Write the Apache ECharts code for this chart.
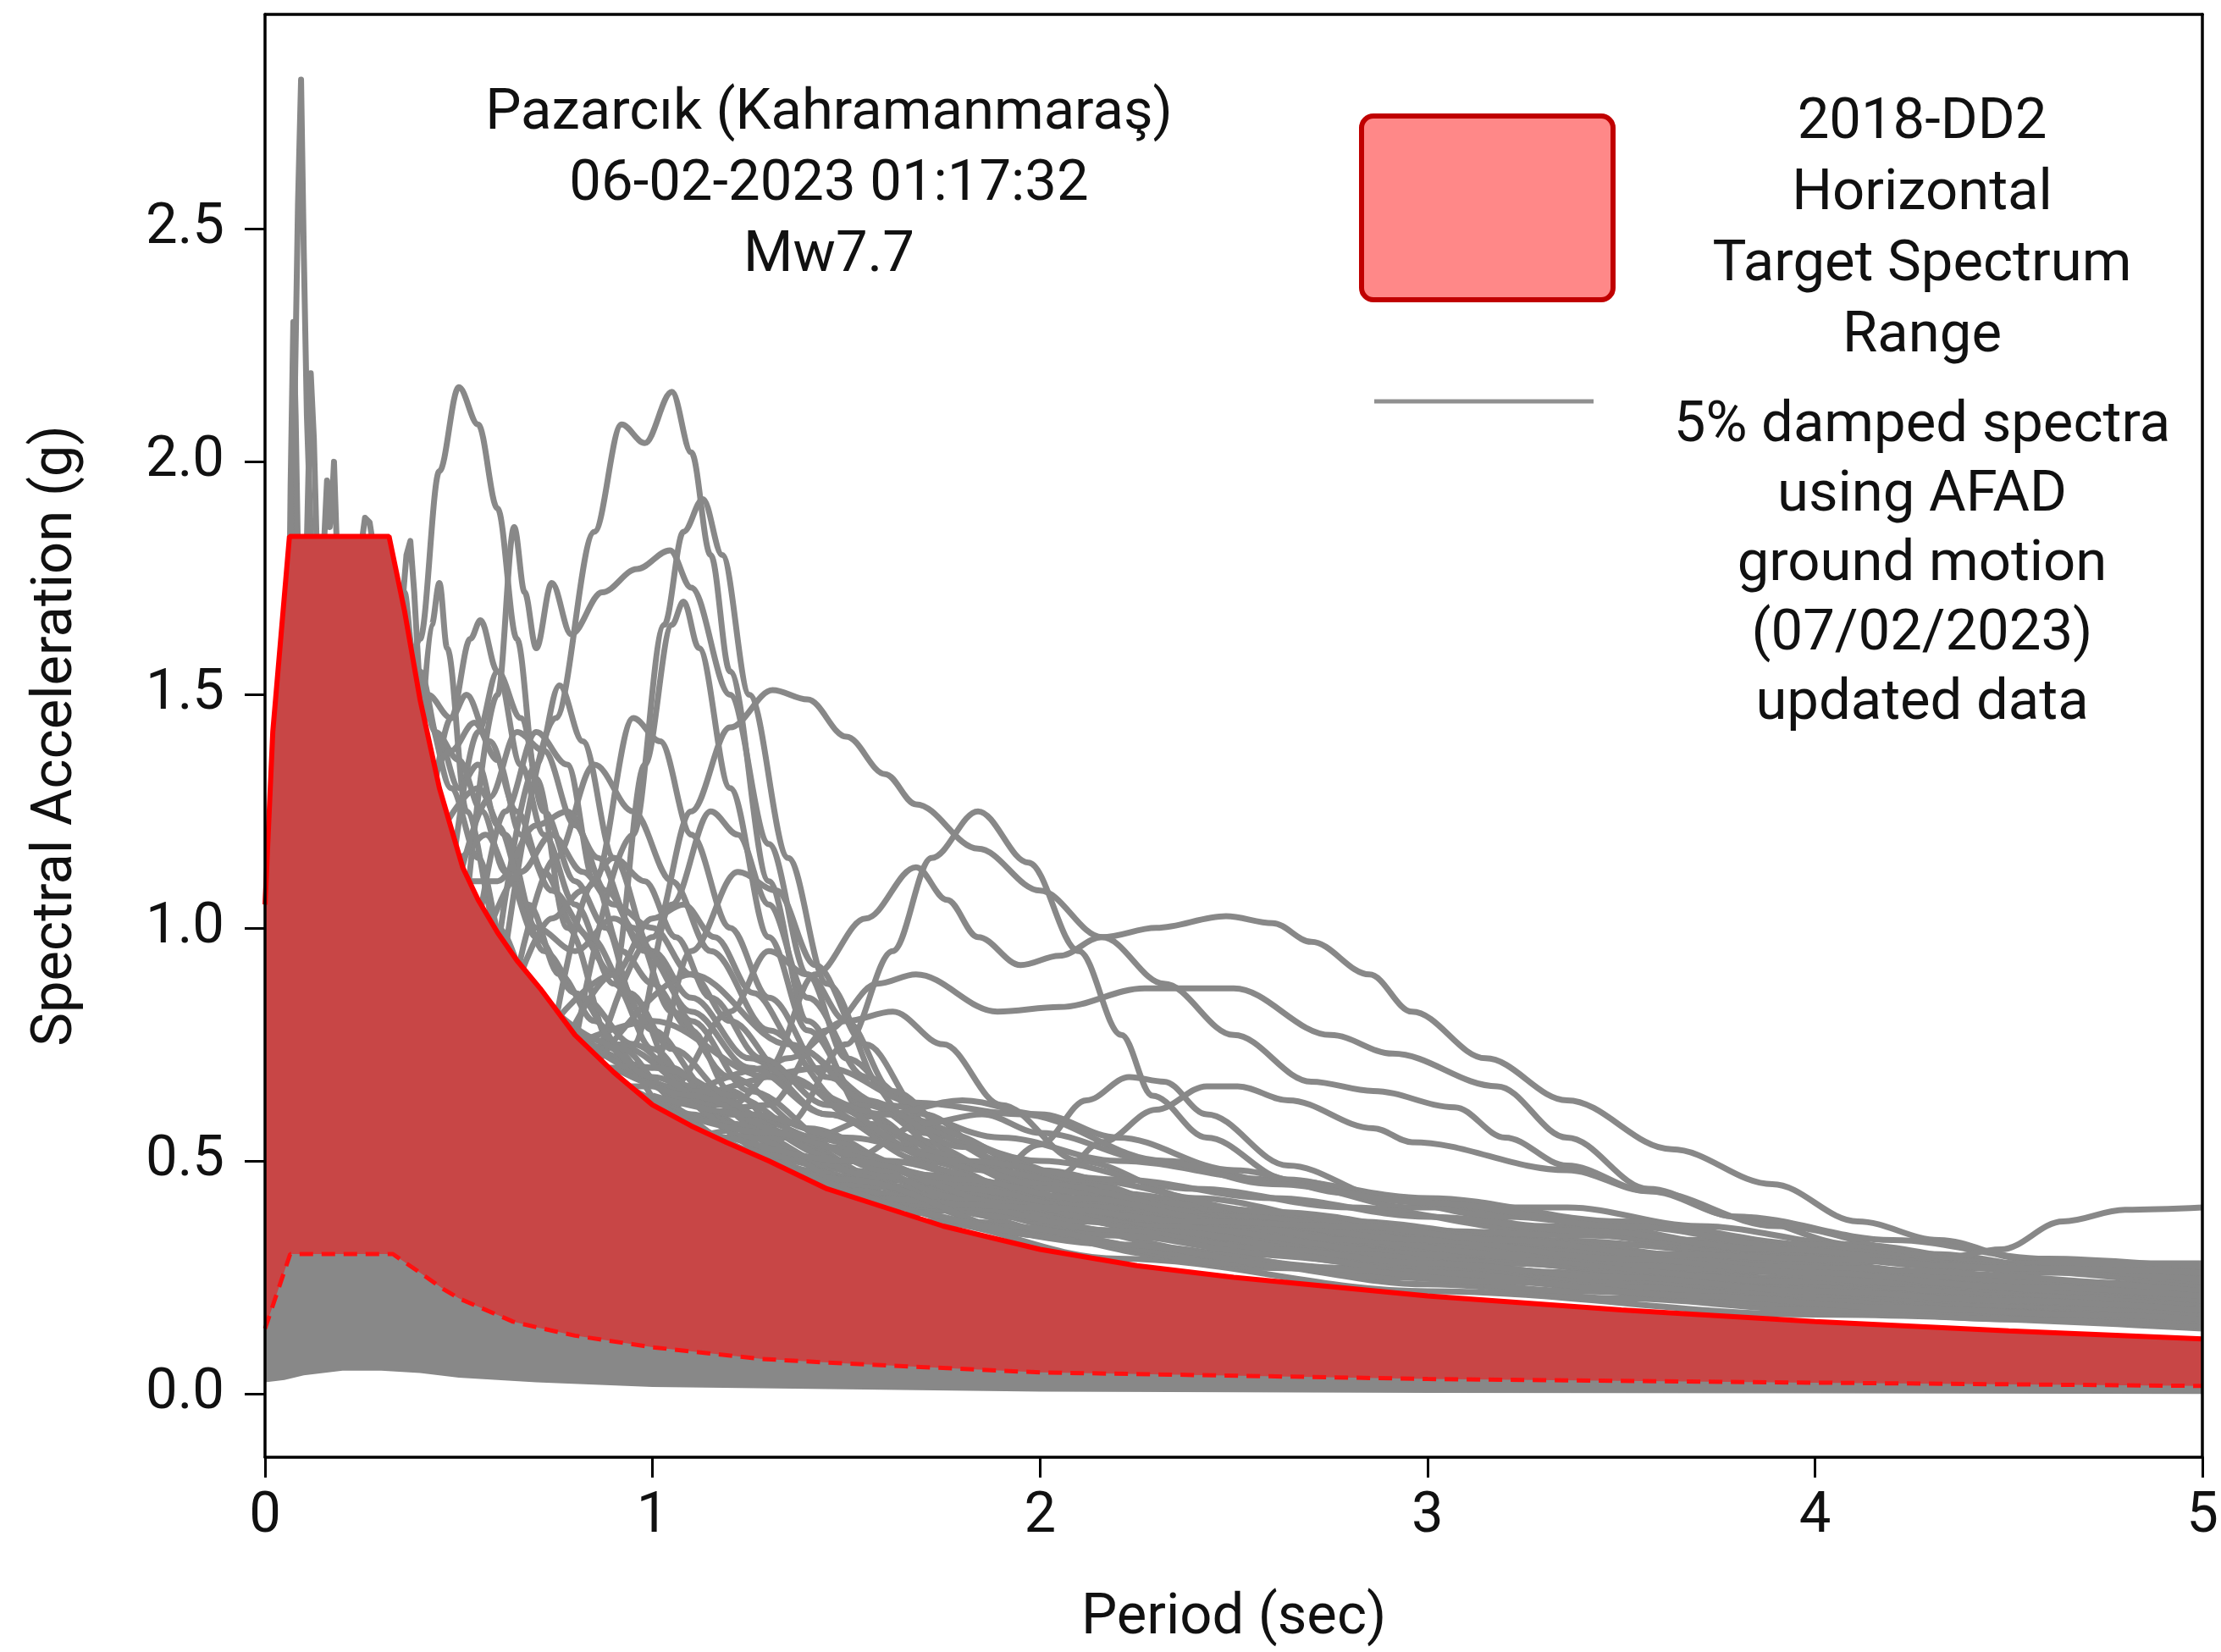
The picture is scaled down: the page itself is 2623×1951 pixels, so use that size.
<!DOCTYPE html>
<html>
<head>
<meta charset="utf-8">
<title>Pazarcık Mw7.7 response spectra</title>
<script src="https://cdn.jsdelivr.net/npm/echarts@6.0.0/dist/echarts.min.js"></script>
<style>
  html, body { margin: 0; padding: 0; background: #fff; }
  #chart { width: 2623px; height: 1951px; }
</style>
</head>
<body>
<div id="chart"></div>
<script>
const periodTicks = [0, 1, 2, 3, 4, 5];
const saTicks = [0, 0.5, 1, 1.5, 2, 2.5];

// 2018-DD2 target spectrum range, upper and lower edge
const upperT  = [0, 0.02, 0.063, 0.32, 0.36, 0.40, 0.45, 0.51, 0.55, 0.6, 0.65, 0.71, 0.8, 0.9, 1.0, 1.1, 1.19, 1.3, 1.45, 1.6, 1.75, 2.0, 2.25, 2.5, 3.0, 3.5, 4.0, 4.5, 5.0];
const upperSa = [1.05, 1.42, 1.84, 1.84, 1.68, 1.49, 1.30, 1.13, 1.06, 0.99, 0.93, 0.87, 0.77, 0.69, 0.62, 0.575, 0.54, 0.50, 0.44, 0.40, 0.36, 0.31, 0.275, 0.25, 0.21, 0.18, 0.155, 0.135, 0.118];
const lowerT  = [0, 0.065, 0.33, 0.40, 0.46, 0.5, 0.64, 0.7, 0.8, 1.0, 1.28, 1.5, 2.0, 3.0, 4.0, 5.0];
const lowerSa = [0.14, 0.30, 0.30, 0.26, 0.225, 0.205, 0.155, 0.143, 0.125, 0.10, 0.075, 0.065, 0.046, 0.032, 0.024, 0.017];

// lowest edge of the recorded spectra
const floorT  = [0, 0.05, 0.1, 0.2, 0.3, 0.4, 0.5, 0.7, 1.0, 1.5, 2.0, 3.0, 4.0, 5.0];
const floorSa = [0.025, 0.03, 0.04, 0.05, 0.05, 0.045, 0.035, 0.025, 0.015, 0.01, 0.005, 0.002, 0.001, 0.0];

// recorded spectra (period sec, Sa g) - short period spikes
const spike1 = [[0.06,1.45],[0.075,2.05],[0.085,2.55],[0.093,2.82],[0.1,2.45],[0.108,2.1],[0.118,1.85],[0.13,1.6]];
const spike2 = [[0.06,1.5],[0.066,1.95],[0.073,2.3],[0.079,2.1],[0.086,1.75],[0.095,1.5]];
const spike3 = [[0.1,1.55],[0.11,1.9],[0.118,2.19],[0.126,2.05],[0.134,1.8],[0.145,1.55]];
const spike4 = [[0.14,1.5],[0.152,1.82],[0.16,1.96],[0.167,1.86],[0.172,1.9],[0.178,2.0],[0.186,1.8],[0.2,1.55]];
const spike5 = [[0.22,1.55],[0.245,1.8],[0.258,1.88],[0.27,1.87],[0.283,1.8],[0.3,1.62]];
const spike6 = [[0.33,1.4],[0.35,1.65],[0.365,1.8],[0.375,1.83],[0.385,1.72],[0.4,1.5],[0.42,1.35]];

// recorded spectra - smooth ones
const specA = [[0.33,1.25],[0.4,1.62],[0.45,1.98],[0.5,2.16],[0.55,2.08],[0.6,1.9],[0.65,1.62],[0.7,1.32],[0.78,1.0],[0.9,0.74],[1.05,0.6],[1.3,0.48],[1.7,0.37],[2.2,0.29],[3,0.22],[4,0.17],[5,0.14]];
const specB = [[0.62,0.95],[0.75,1.45],[0.85,1.85],[0.92,2.08],[0.98,2.04],[1.05,2.15],[1.1,2.02],[1.15,1.8],[1.2,1.55],[1.3,1.1],[1.4,0.8],[1.55,0.6],[1.8,0.46],[2.2,0.37],[2.8,0.3],[3.5,0.25],[4.2,0.21],[5,0.17]];
const specC = [[0.8,0.75],[0.95,1.2],[1.03,1.65],[1.08,1.85],[1.13,1.92],[1.18,1.8],[1.25,1.5],[1.35,1.15],[1.45,0.88],[1.6,0.65],[1.8,0.5],[2.1,0.41],[2.6,0.34],[3.2,0.28],[4,0.22],[5,0.18]];
const specD = [[0.52,1.05],[0.6,1.5],[0.643,1.86],[0.67,1.72],[0.7,1.6],[0.74,1.74],[0.79,1.63],[0.87,1.72],[0.96,1.77],[1.045,1.81],[1.1,1.73],[1.2,1.5],[1.3,1.18],[1.4,0.9],[1.5,0.72],[1.7,0.56],[2.0,0.46],[2.5,0.37],[3,0.31],[4,0.23],[5,0.19]];
const specE = [[0.85,0.7],[1.0,0.98],[1.1,1.25],[1.2,1.43],[1.31,1.51],[1.4,1.49],[1.5,1.41],[1.6,1.33],[1.68,1.265],[1.84,1.17],[2.0,1.08],[2.16,0.98],[2.32,0.88],[2.5,0.77],[2.7,0.67],[2.86,0.65],[3.07,0.615],[3.2,0.55],[3.36,0.49],[3.57,0.435],[3.8,0.38],[4.1,0.32],[4.5,0.27],[5,0.23]];
const specF = [[0.4,1.35],[0.43,1.65],[0.45,1.74],[0.47,1.6],[0.52,1.25],[0.6,1.0],[0.7,0.85],[0.85,0.7],[1.0,0.62],[1.2,0.5]];
const specG = [[0.34,1.5],[0.36,1.72],[0.38,1.6],[0.42,1.45],[0.48,1.3],[0.55,1.15],[0.62,0.95],[0.7,0.82],[0.8,0.7],[0.9,0.6]];
const specH = [[0.42,1.2],[0.48,1.45],[0.53,1.62],[0.556,1.66],[0.6,1.55],[0.66,1.35],[0.72,1.2],[0.8,1.05],[0.9,0.88],[1.0,0.74],[1.15,0.6],[1.35,0.5],[1.6,0.42],[2,0.34],[2.6,0.27],[3.2,0.24],[4,0.2],[5,0.17]];
const specI = [[0.48,1.1],[0.55,1.42],[0.6,1.55],[0.66,1.45],[0.72,1.25],[0.8,1.1],[0.88,1.0],[0.95,0.85],[1.05,0.7],[1.2,0.58],[1.4,0.48],[1.8,0.37],[2.4,0.29],[3,0.25],[4,0.19],[5,0.16]];
const specJ = [[0.55,1.0],[0.62,1.25],[0.7,1.42],[0.78,1.35],[0.85,1.1],[0.92,0.95],[1.0,0.88],[1.1,0.78],[1.2,0.65],[1.4,0.5],[1.7,0.4],[2.2,0.32],[2.8,0.27],[3.6,0.22],[5,0.16]];
const specK = [[0.6,0.95],[0.7,1.35],[0.76,1.52],[0.82,1.4],[0.9,1.15],[1.0,0.95],[1.1,0.85],[1.25,0.72],[1.45,0.6],[1.7,0.5],[2.0,0.42],[2.5,0.33],[3,0.27],[4,0.2],[5,0.17]];
const specL = [[0.65,0.9],[0.75,1.15],[0.85,1.35],[0.95,1.25],[1.05,1.1],[1.15,0.95],[1.3,0.78],[1.5,0.62],[1.75,0.5],[2.1,0.4],[2.6,0.32],[3.3,0.26],[4.2,0.21],[5,0.18]];
const specM = [[0.75,0.8],[0.85,1.1],[0.95,1.45],[1.02,1.4],[1.1,1.2],[1.2,1.0],[1.3,0.85],[1.45,0.68],[1.65,0.55],[2,0.44],[2.5,0.36],[3,0.3],[4,0.23],[5,0.2]];
const specN = [[0.75,0.8],[0.9,0.9],[0.98,1.35],[1.05,1.65],[1.08,1.7],[1.12,1.6],[1.2,1.3],[1.3,0.98],[1.4,0.78],[1.55,0.62],[1.8,0.5],[2.2,0.4],[2.8,0.33],[3.5,0.27],[4.3,0.22],[5,0.19]];
const specO = [[0.8,0.74],[0.95,0.75],[1.05,1.05],[1.15,1.25],[1.22,1.2],[1.3,1.05],[1.4,0.85],[1.55,0.68],[1.75,0.56],[2.0,0.48],[2.4,0.4],[3,0.33],[3.6,0.28],[4.3,0.24],[5,0.21]];
const specP = [[0.85,0.7],[1.0,0.7],[1.1,0.95],[1.22,1.12],[1.32,1.08],[1.42,0.92],[1.55,0.75],[1.7,0.6],[1.9,0.5],[2.2,0.43],[2.6,0.38],[3.2,0.32],[4,0.26],[5,0.22]];
const specQ = [[0.9,0.66],[1.05,0.66],[1.2,0.82],[1.3,0.95],[1.4,0.9],[1.5,0.8],[1.62,0.65],[1.8,0.54],[2.0,0.47],[2.4,0.4],[3,0.35],[3.5,0.32],[4,0.28],[4.5,0.24],[5,0.2]];
const specR = [[0.45,1.2],[0.55,1.3],[0.62,1.2],[0.7,1.0],[0.8,0.95],[0.9,1.02],[1.0,0.95],[1.1,0.8],[1.25,0.65],[1.5,0.52],[1.8,0.43],[2.3,0.36],[3,0.3],[3.8,0.25],[5,0.2]];
const specS = [[0.48,1.1],[0.6,1.1],[0.7,1.22],[0.78,1.25],[0.86,1.15],[0.95,1.0],[1.05,0.82],[1.2,0.68],[1.4,0.57],[1.7,0.47],[2.1,0.4],[2.7,0.34],[3.4,0.29],[4.2,0.25],[5,0.23]];
const specT = [[0.95,0.64],[1.2,0.62],[1.35,0.72],[1.5,0.8],[1.62,0.82],[1.75,0.75],[1.9,0.62],[2.1,0.5],[2.4,0.42],[2.8,0.37],[3.3,0.33],[3.9,0.3],[4.5,0.27],[5,0.25]];
const specU = [[0.35,1.6],[0.4,1.55],[0.45,1.4],[0.5,1.3],[0.55,1.35],[0.6,1.22],[0.68,1.05],[0.76,0.9],[0.85,0.8],[0.95,0.7],[1.1,0.6],[1.3,0.52],[1.6,0.43],[2.2,0.34],[3,0.27],[4,0.21],[5,0.18]];
const specV = [[0.36,1.6],[0.42,1.5],[0.48,1.45],[0.52,1.5],[0.58,1.4],[0.65,1.25],[0.72,1.12],[0.8,1.0],[0.9,0.9],[1.0,0.78],[1.15,0.65],[1.35,0.55],[1.6,0.46],[2,0.38],[2.6,0.31],[3.4,0.26],[4.2,0.22],[5,0.19]];
const specW = [[0.38,1.3],[0.44,1.25],[0.5,1.15],[0.57,1.2],[0.64,1.1],[0.72,0.95],[0.82,0.85],[0.95,0.75],[1.1,0.66],[1.3,0.56],[1.6,0.46],[2.2,0.37],[3,0.29],[4,0.23],[5,0.2]];
const specX = [[1.1,0.55],[1.35,0.58],[1.5,0.75],[1.62,0.95],[1.72,1.15],[1.84,1.25],[1.97,1.14],[2.1,0.95],[2.21,0.77],[2.29,0.64],[2.43,0.55],[2.64,0.46],[2.9,0.42],[3.3,0.38],[3.8,0.32],[4.4,0.27],[5,0.23]];
const specY = [[1.0,0.6],[1.3,0.7],[1.42,0.9],[1.55,1.02],[1.68,1.13],[1.76,1.06],[1.84,0.98],[1.95,0.92],[2.05,0.94],[2.16,0.98],[2.3,1.0],[2.48,1.025],[2.6,1.01],[2.7,0.97],[2.85,0.9],[2.96,0.82],[3.15,0.72],[3.36,0.63],[3.63,0.525],[3.89,0.45],[4.11,0.37],[4.32,0.33],[4.54,0.29],[5,0.245]];
const specZ = [[1.05,0.58],[1.3,0.62],[1.45,0.78],[1.58,0.88],[1.68,0.9],[1.89,0.82],[2.05,0.83],[2.27,0.87],[2.5,0.87],[2.75,0.77],[2.91,0.73],[3.18,0.66],[3.36,0.55],[3.57,0.44],[3.8,0.38],[4.2,0.33],[4.6,0.29],[5,0.27]];
const spec27 = [[1.5,0.4],[1.7,0.4],[1.85,0.44],[2.0,0.535],[2.12,0.63],[2.23,0.68],[2.32,0.67],[2.43,0.6],[2.64,0.49],[2.9,0.42],[3.3,0.36],[3.8,0.3],[4.4,0.25],[5,0.21]];
const spec28 = [[1.6,0.38],[1.9,0.4],[2.05,0.47],[2.16,0.54],[2.3,0.61],[2.43,0.66],[2.51,0.66],[2.64,0.63],[2.86,0.57],[2.96,0.54],[3.36,0.48],[3.57,0.435],[3.9,0.36],[4.3,0.3],[4.7,0.26],[5,0.24]];
const spec29 = [[1.0,0.6],[1.45,0.7],[1.68,0.625],[1.95,0.6],[2.32,0.5],[2.64,0.45],[2.96,0.4],[3.36,0.4],[3.7,0.36],[4.1,0.32],[4.5,0.28],[5,0.26]];
const spec30 = [[1.2,0.5],[1.6,0.42],[2.2,0.35],[3.0,0.3],[3.5,0.29],[4.0,0.28],[4.32,0.29],[4.48,0.31],[4.64,0.37],[4.8,0.395],[5,0.4]];
const spec31 = [[0.6,0.95],[0.9,0.75],[1.2,0.6],[1.6,0.5],[2,0.42],[2.5,0.36],[3,0.31],[3.5,0.27],[4,0.24],[4.5,0.21],[5,0.19]];
const spec32 = [[0.68,0.85],[1.0,0.7],[1.4,0.55],[1.8,0.45],[2.2,0.38],[2.7,0.32],[3.2,0.28],[3.8,0.24],[4.4,0.2],[5,0.17]];
const spec33 = [[0.75,0.8],[1.1,0.65],[1.5,0.5],[1.9,0.42],[2.3,0.36],[2.8,0.3],[3.3,0.26],[3.9,0.22],[4.5,0.19],[5,0.16]];
const spec34 = [[0.8,0.75],[1.0,0.8],[1.3,0.68],[1.6,0.6],[2.0,0.5],[2.4,0.44],[2.8,0.4],[3.3,0.35],[3.8,0.31],[4.4,0.27],[5,0.25]];
const spec35 = [[0.85,0.7],[1.1,0.9],[1.35,0.75],[1.6,0.62],[1.9,0.55],[2.2,0.5],[2.6,0.46],[3.0,0.42],[3.5,0.37],[4,0.32],[4.5,0.28],[5,0.26]];
const spec36 = [[1.2,0.5],[1.5,0.45],[1.8,0.42],[2.2,0.4],[2.6,0.38],[3.0,0.35],[3.4,0.34],[3.9,0.31],[4.4,0.28],[5,0.28]];
const spec37 = [[0.85,0.7],[1.2,0.58],[1.5,0.48],[1.9,0.4],[2.4,0.34],[3,0.28],[3.6,0.24],[4.2,0.21],[5,0.18]];
const spec38 = [[1.1,0.55],[1.3,0.52],[1.7,0.44],[2.1,0.39],[2.5,0.35],[3,0.3],[3.5,0.27],[4,0.26],[4.5,0.24],[5,0.22]];
const spec39 = [[1.1,0.55],[1.4,0.55],[1.6,0.6],[1.8,0.63],[2.0,0.6],[2.2,0.55],[2.5,0.48],[2.8,0.43],[3.2,0.38],[3.7,0.33],[4.3,0.28],[5,0.24]];
const spec40 = [[1.2,0.52],[1.5,0.5],[1.7,0.58],[1.85,0.6],[2.0,0.56],[2.3,0.5],[2.6,0.45],[3.0,0.41],[3.5,0.36],[4,0.31],[4.6,0.26],[5,0.24]];
const spec41 = [[0.36,1.6],[0.4,1.52],[0.44,1.42],[0.5,1.36],[0.56,1.25],[0.62,1.12],[0.7,0.98],[0.8,0.86],[0.92,0.74],[1.05,0.64],[1.25,0.55],[1.5,0.46],[1.9,0.38],[2.5,0.3],[3.2,0.25],[4,0.2],[5,0.17]];
const spec42 = [[0.42,1.3],[0.48,1.38],[0.54,1.44],[0.6,1.36],[0.66,1.2],[0.74,1.08],[0.84,0.98],[0.94,0.86],[1.05,0.74],[1.2,0.64],[1.45,0.53],[1.8,0.44],[2.3,0.36],[3,0.3],[4,0.24],[5,0.2]];
const spec43 = [[0.5,1.1],[0.58,1.28],[0.65,1.42],[0.72,1.38],[0.8,1.22],[0.88,1.08],[0.98,0.95],[1.1,0.82],[1.25,0.7],[1.45,0.6],[1.75,0.5],[2.2,0.42],[2.8,0.35],[3.6,0.28],[5,0.2]];
const spec44 = [[0.58,1.0],[0.66,1.12],[0.74,1.2],[0.82,1.12],[0.9,1.05],[1.0,1.0],[1.1,0.9],[1.2,0.8],[1.35,0.68],[1.55,0.58],[1.85,0.48],[2.3,0.41],[2.9,0.35],[3.6,0.3],[4.4,0.25],[5,0.22]];
const spec45 = [[0.66,0.9],[0.74,1.02],[0.82,1.08],[0.9,1.15],[0.98,1.1],[1.06,0.98],[1.15,0.85],[1.28,0.72],[1.45,0.62],[1.7,0.52],[2.0,0.45],[2.5,0.38],[3.2,0.31],[4,0.26],[5,0.21]];
const spec46 = [[0.78,0.76],[0.9,0.9],[1.0,1.02],[1.08,1.05],[1.16,0.98],[1.26,0.86],[1.38,0.74],[1.55,0.63],[1.8,0.53],[2.1,0.46],[2.6,0.39],[3.2,0.33],[4,0.27],[5,0.22]];
const spec47 = [[0.7,0.86],[0.85,0.76],[1.0,0.68],[1.2,0.6],[1.5,0.5],[1.8,0.42],[2.1,0.37],[2.5,0.32],[3,0.27],[3.5,0.24],[4,0.21],[4.5,0.19],[5,0.17]];
const spec48 = [[0.9,0.7],[1.1,0.64],[1.35,0.56],[1.6,0.48],[1.9,0.41],[2.3,0.35],[2.8,0.3],[3.3,0.26],[3.8,0.23],[4.4,0.2],[5,0.18]];
const spec49 = [[1.0,0.62],[1.3,0.56],[1.6,0.5],[2.0,0.44],[2.4,0.38],[2.8,0.33],[3.2,0.3],[3.7,0.27],[4.2,0.24],[4.7,0.22],[5,0.21]];
const spec50 = [[1.2,0.55],[1.5,0.5],[1.8,0.46],[2.1,0.42],[2.5,0.37],[3,0.33],[3.5,0.29],[4,0.26],[4.5,0.23],[5,0.21]];
const spec51 = [[1.5,0.43],[1.8,0.4],[2.2,0.35],[2.6,0.31],[3,0.28],[3.5,0.25],[4,0.22],[4.5,0.2],[5,0.18]];
const spec52 = [[1.8,0.37],[2.2,0.34],[2.6,0.3],[3.0,0.26],[3.5,0.23],[4.0,0.2],[4.5,0.17],[5,0.155]];
const spec53 = [[1.0,0.64],[1.25,0.6],[1.5,0.55],[1.8,0.5],[2.2,0.46],[2.6,0.42],[3.0,0.38],[3.4,0.35],[3.9,0.31],[4.5,0.27],[5,0.245]];
const spec54 = [[1.6,0.42],[2.0,0.4],[2.4,0.37],[2.8,0.36],[3.2,0.33],[3.6,0.3],[4.0,0.29],[4.5,0.27],[5,0.26]];
const spec55 = [[1.0,0.63],[1.5,0.46],[2.0,0.34],[2.5,0.28],[3.0,0.235],[3.5,0.205],[4.0,0.18],[4.5,0.16],[5,0.145]];
const spec56 = [[1.4,0.47],[1.9,0.36],[2.4,0.3],[2.9,0.25],[3.4,0.22],[3.9,0.195],[4.4,0.175],[5,0.155]];
const spec57 = [[1.7,0.39],[2.2,0.32],[2.7,0.27],[3.2,0.24],[3.7,0.21],[4.2,0.185],[4.7,0.17],[5,0.16]];

const spikes = [spike1, spike2, spike3, spike4, spike5, spike6];
const spectra = [specA, specB, specC, specD, specE, specF, specG, specH, specI, specJ, specK, specL, specM,
  specN, specO, specP, specQ, specR, specS, specT, specU, specV, specW, specX, specY, specZ,
  spec27, spec28, spec29, spec30, spec31, spec32, spec33, spec34, spec35, spec36, spec37, spec38, spec39, spec40,
  spec41, spec42, spec43, spec44, spec45, spec46, spec47, spec48, spec49, spec50, spec51, spec52, spec53, spec54,
  spec55, spec56, spec57];

const FONT = 'Roboto';
const GREY = '#888888';
const pairs = (ts, vs) => ts.map((t, i) => [t, vs[i]]);

const series = [];
spikes.forEach((d) => series.push({
  type: 'line', data: d, symbol: 'none', smooth: false, silent: true, z: 2,
  lineStyle: { color: GREY, width: 7, join: 'round' }
}));
spectra.forEach((d) => series.push({
  type: 'line', data: d, symbol: 'none', smooth: 0.35, smoothMonotone: 'x', silent: true, z: 2,
  lineStyle: { color: GREY, width: 7 }
}));
// target range: filled from the upper edge, then the grey band and the empty floor laid over it
series.push({
  type: 'line', data: pairs(upperT, upperSa), symbol: 'none', silent: true, z: 3,
  lineStyle: { color: '#ff0000', width: 6 },
  areaStyle: { color: '#c84646', opacity: 1, origin: 'start' }
});
series.push({
  type: 'line', data: pairs(lowerT, lowerSa), symbol: 'none', silent: true, z: 4,
  lineStyle: { color: '#ff1010', width: 5, type: [16, 10] },
  areaStyle: { color: GREY, opacity: 1, origin: 'start' }
});
series.push({
  type: 'line', data: pairs(floorT, floorSa), symbol: 'none', silent: true, z: 5,
  lineStyle: { width: 0 },
  areaStyle: { color: '#ffffff', opacity: 1, origin: 'start' }
});

const frameLine = { show: true, onZero: false, lineStyle: { color: '#000', width: 3.5 } };
const textStyle = { fontFamily: FONT, fontSize: 67, color: '#111' };

const chart = echarts.init(document.getElementById('chart'));
chart.setOption({
  animation: false,
  backgroundColor: '#fff',
  grid: { left: 313, top: 17, right: 17, bottom: 225, containLabel: false },
  xAxis: [
    {
      type: 'value', min: 0, max: 5, interval: 1, position: 'bottom', z: 10,
      name: 'Period (sec)', nameLocation: 'middle', nameGap: 158, nameTextStyle: textStyle,
      axisLine: frameLine,
      axisTick: { show: true, length: 24, customValues: periodTicks, lineStyle: { color: '#000', width: 3 } },
      axisLabel: { margin: 38, customValues: periodTicks, ...textStyle },
      splitLine: { show: false }
    },
    {
      type: 'value', min: 0, max: 5, position: 'top', z: 10,
      axisLine: frameLine, axisTick: { show: false }, axisLabel: { show: false }, splitLine: { show: false }
    }
  ],
  yAxis: [
    {
      type: 'value', min: -0.136, max: 2.96, position: 'left', z: 10,
      name: 'Spectral Acceleration (g)', nameLocation: 'middle', nameGap: 212, nameTextStyle: textStyle,
      axisLine: frameLine,
      axisTick: { show: true, length: 24, customValues: saTicks, lineStyle: { color: '#000', width: 3 } },
      axisLabel: { margin: 48, customValues: saTicks, formatter: (v) => v.toFixed(1), ...textStyle },
      splitLine: { show: false }
    },
    {
      type: 'value', min: -0.136, max: 2.96, position: 'right', z: 10,
      axisLine: frameLine, axisTick: { show: false }, axisLabel: { show: false }, splitLine: { show: false }
    }
  ],
  graphic: [
    {
      type: 'text', x: 979, y: 93, z: 20,
      style: {
        text: 'Pazarcık (Kahramanmaraş)\n06-02-2023 01:17:32\nMw7.7',
        fontFamily: FONT, fontSize: 67, lineHeight: 84, fill: '#111',
        textAlign: 'center', textVerticalAlign: 'top'
      }
    },
    {
      type: 'rect', z: 20,
      shape: { x: 1608, y: 137, width: 297, height: 217, r: 14 },
      style: { fill: '#ff8888', stroke: '#c00000', lineWidth: 6 }
    },
    {
      type: 'text', x: 2270, y: 104, z: 20,
      style: {
        text: '2018-DD2\nHorizontal\nTarget Spectrum\nRange',
        fontFamily: FONT, fontSize: 67, lineHeight: 84, fill: '#111',
        textAlign: 'center', textVerticalAlign: 'top'
      }
    },
    {
      type: 'line', z: 20,
      shape: { x1: 1623, y1: 474, x2: 1882, y2: 474 },
      style: { stroke: '#909090', lineWidth: 5 }
    },
    {
      type: 'text', x: 2270, y: 463, z: 20,
      style: {
        text: '5% damped spectra\nusing AFAD\nground motion\n(07/02/2023)\nupdated data',
        fontFamily: FONT, fontSize: 67, lineHeight: 82, fill: '#111',
        textAlign: 'center', textVerticalAlign: 'top'
      }
    }
  ],
  series
});
</script>
</body>
</html>
